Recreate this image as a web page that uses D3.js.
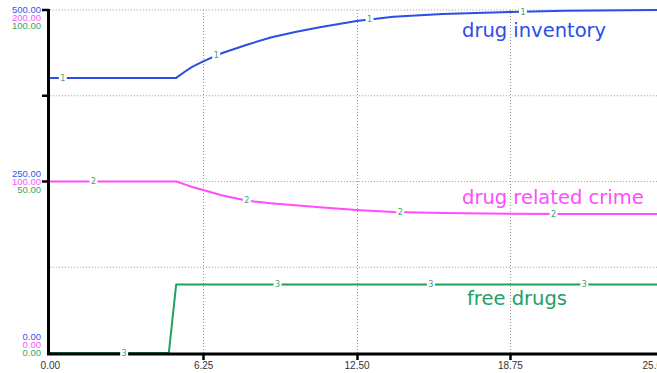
<!DOCTYPE html>
<html>
<head>
<meta charset="utf-8">
<script src="https://cdn.jsdelivr.net/npm/d3@7/dist/d3.min.js"></script>
<style>
html,body{margin:0;padding:0;background:#fff;overflow:hidden;}
svg{display:block;}
</style>
</head>
<body>
<svg id="c" width="657" height="373"></svg>
<script>
// ---- data ----
const time      = [0, 4.85, 5.15, 5.5, 5.8, 6.25, 7, 8, 9, 10, 11, 12.5, 14, 16, 18.75, 21, 25];
const inventory = [401, 401, 401, 410, 417, 425, 437, 449, 460, 468, 475, 484, 490, 494, 497, 499, 500];
const crime     = [100, 100, 100, 98.3, 96.8, 95, 92, 88.9, 87.3, 86.1, 85, 83.4, 82.2, 81.6, 81.2, 81, 81];
const freeDrugs = [0, 0, 20, 20, 20, 20, 20, 20, 20, 20, 20, 20, 20, 20, 20, 20, 20];
const xTicks    = [0, 6.25, 12.5, 18.75, 25];
const seriesNames = ["drug inventory", "drug related crime", "free drugs"];
const seriesMax   = [500, 200, 100];
const labelStart  = [0.53, 1.78, 3.03];   // time of first in-line marker per series
const labelStep   = 6.25;

const colors = ["#2b4de8", "#ff4cff", "#1f9f62"];
const tickColors = ["#3355f0", "#ff55ff", "#2faa68"];

const svg = d3.select("#c");
const L = 49.8, T = 10, B = 353;
const x = d3.scaleLinear().domain([0, 25]).range([L, 663.3]);
const yScales = seriesMax.map(m => d3.scaleLinear().domain([0, m]).range([B, T]));
const series = [inventory, crime, freeDrugs];

// grid
const gridY = [0.25, 0.5, 0.75, 1].map(f => yScales[0](500 * f));
svg.append("g").selectAll("line").data(gridY).join("line")
  .attr("x1", L).attr("x2", 657).attr("y1", d => d).attr("y2", d => d)
  .attr("stroke", "#999").attr("stroke-width", 1).attr("stroke-dasharray", "1,2");
svg.append("g").selectAll("line").data(xTicks.slice(1, 4)).join("line")
  .attr("x1", d => Math.round(x(d)) + 0.5).attr("x2", d => Math.round(x(d)) + 0.5)
  .attr("y1", T).attr("y2", B)
  .attr("stroke", "#999").attr("stroke-width", 1).attr("stroke-dasharray", "1,2");

// series lines
series.forEach((vals, i) => {
  const line = d3.line().x((d, j) => x(time[j])).y(d => yScales[i](d)).curve(d3.curveLinear);
  svg.append("path").datum(vals).attr("d", line)
    .attr("fill", "none").attr("stroke", colors[i]).attr("stroke-width", 2)
    .attr("stroke-linejoin", "round");
});

// axes
svg.append("line").attr("x1", 48.5).attr("x2", 48.5).attr("y1", T - 1).attr("y2", B + 2)
  .attr("stroke", "#000").attr("stroke-width", 3);
svg.append("line").attr("x1", 47).attr("x2", 657).attr("y1", 354).attr("y2", 354)
  .attr("stroke", "#000").attr("stroke-width", 3);
// left ticks
[0.5, 0.75, 1].forEach(f => {
  const yy = yScales[0](500 * f);
  svg.append("line").attr("x1", 42).attr("x2", 49).attr("y1", yy).attr("y2", yy)
    .attr("stroke", "#000").attr("stroke-width", 2.5);
});
// bottom ticks and labels
const xAxis = d3.axisBottom(x).tickValues(xTicks).tickSize(0).tickFormat(d3.format(".2f"));
const gx = svg.append("g").attr("transform", `translate(0,${B + 1})`).call(xAxis);
gx.select(".domain").remove();
gx.selectAll("text").attr("dy", 0).attr("y", 15)
  .attr("font-family", "Liberation Sans, Arial, sans-serif").attr("font-size", 10).attr("fill", "#333");
// last label sits partly past the right edge, as in the reference
gx.selectAll(".tick").filter(d => d === 25).select("text")
  .attr("text-anchor", "start").attr("x", 642 - x(25));
svg.append("g").selectAll("line").data(xTicks.slice(1, 4)).join("line")
  .attr("x1", d => Math.round(x(d)) + 0.5).attr("x2", d => Math.round(x(d)) + 0.5)
  .attr("y1", 354).attr("y2", 360).attr("stroke", "#000").attr("stroke-width", 2.5);

// stacked left tick labels
const fmt = d3.format(".2f");
const labelGroups = [
  { y: T, vals: seriesMax.map(m => m), base: 0 },
  { y: yScales[0](250), vals: seriesMax.map(m => m / 2), base: -1 },
  { y: B, vals: seriesMax.map(m => 0), base: -2 }
];
labelGroups.forEach(g => {
  g.vals.forEach((v, i) => {
    svg.append("text").attr("x", 41).attr("y", g.y + (i + g.base) * 8).attr("dy", "0.35em")
      .attr("text-anchor", "end")
      .attr("font-family", "Liberation Sans, Arial, sans-serif").attr("font-size", 9.5)
      .attr("fill", tickColors[i]).text(fmt(v));
  });
});

// in-line numbered markers
function valueAt(vals, t) {
  const j = Math.max(1, d3.bisectLeft(time, t));
  const t0 = time[j - 1], t1 = time[j];
  return vals[j - 1] + (vals[j] - vals[j - 1]) * (t - t0) / (t1 - t0);
}
series.forEach((vals, i) => {
  for (let k = 0; k < 4; k++) {
    const t = labelStart[i] + k * labelStep;
    const px = x(t), py = yScales[i](valueAt(vals, t));
    svg.append("rect").attr("x", px - 4).attr("y", py - 4).attr("width", 8).attr("height", 8).attr("fill", "#fff");
    svg.append("text").attr("x", px).attr("y", py).attr("dy", "0.35em").attr("text-anchor", "middle")
      .attr("font-family", "DejaVu Sans, sans-serif").attr("font-size", 8).attr("fill", "#3aa070")
      .text(i + 1);
  }
});

// series names
const namePos = [[462, 37], [462, 204], [467, 305]];
seriesNames.forEach((n, i) => {
  svg.append("text").attr("x", namePos[i][0]).attr("y", namePos[i][1])
    .attr("font-family", "DejaVu Sans, sans-serif").attr("font-size", 19.5)
    .attr("fill", colors[i]).text(n);
});
</script>
</body>
</html>
